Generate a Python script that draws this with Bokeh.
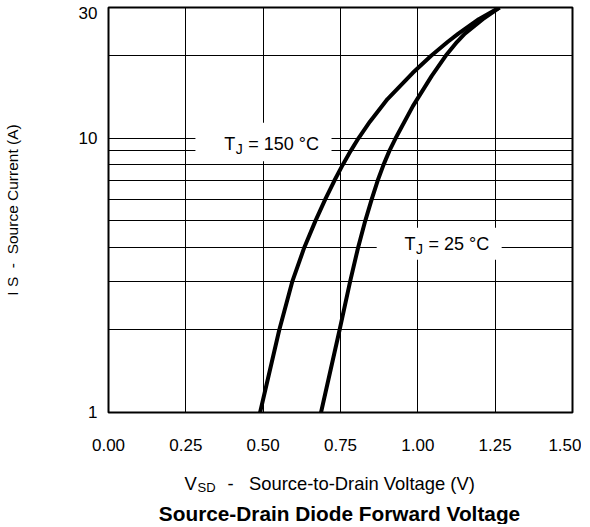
from bokeh.plotting import figure
from bokeh.layouts import column
from bokeh.models import FixedTicker, Label, BoxAnnotation, NumeralTickFormatter, Range1d
from bokeh.embed import file_html
from bokeh.resources import INLINE

# ---- data ----
v_150 = [0.490, 0.552, 0.594, 0.633, 0.669, 0.701, 0.730, 0.757, 0.783, 0.808,
         0.845, 0.902, 0.983, 1.043, 1.097, 1.131, 1.197, 1.264]
i_150 = [1, 2, 3, 4, 5, 6, 7, 8, 9, 10, 11.5, 13.9, 17.3, 20, 22.5, 24.1, 27.2, 30]

v_25 = [0.687, 0.747, 0.781, 0.807, 0.830, 0.851, 0.870, 0.889, 0.908, 0.928,
        0.984, 1.045, 1.090, 1.127, 1.152, 1.210, 1.264]
i_25 = [1, 2, 3, 4, 5, 6, 7, 8, 9, 10, 13.1, 16.9, 20, 22.5, 24.1, 27.2, 30]

x_ticks = [0.0, 0.25, 0.5, 0.75, 1.0, 1.25, 1.5]
x_grid = [0.25, 0.5, 0.75, 1.0, 1.25]
y_ticks = [1, 10, 30]
y_grid = [2, 3, 4, 5, 6, 7, 8, 9, 10, 20]

NB = "\u00a0"
label_150 = "= 150 °C"
label_25 = "= 25 °C"
y_title = "I S" + NB * 2 + "-" + NB * 2 + "Source Current (A)"
x_title_main = "V"
x_title_sub = "SD"
x_title_rest = "-" + NB * 3 + "Source-to-Drain Voltage (V)"
chart_title = "Source-Drain Diode Forward Voltage"

FONT = "Liberation Sans"

p = figure(frame_width=464, frame_height=405,
           min_border_left=101, min_border_right=9, min_border_top=7, min_border_bottom=46,
           x_range=Range1d(0, 1.5), y_range=Range1d(1, 30), y_axis_type="log",
           output_backend="svg", toolbar_location=None)
p.background_fill_color = "white"
p.border_fill_color = "white"
p.outline_line_color = "black"
p.outline_line_width = 2

# grids
p.xgrid.ticker = FixedTicker(ticks=x_grid)
p.ygrid.ticker = FixedTicker(ticks=y_grid)
for g in (p.xgrid, p.ygrid):
    g.grid_line_color = "black"
    g.grid_line_width = 1
    g.grid_line_alpha = 1.0

# axes
for ax in (p.xaxis, p.yaxis):
    ax.axis_line_color = None
    ax.major_tick_line_color = None
    ax.minor_tick_line_color = None
    ax.major_tick_out = 0
    ax.major_tick_in = 0
    ax.minor_tick_out = 0
    ax.minor_tick_in = 0
    ax.major_label_text_font = FONT
    ax.major_label_text_font_size = "17px"
    ax.major_label_text_color = "black"

p.xaxis.ticker = FixedTicker(ticks=x_ticks)
p.xaxis.formatter = NumeralTickFormatter(format="0.00")
p.xaxis.major_label_standoff = 26

p.yaxis.ticker = FixedTicker(ticks=y_ticks)
p.yaxis.major_label_overrides = {1: "1", 10: "10", 30: "\n30"}
p.yaxis.major_label_text_line_height = 0.2
p.yaxis.major_label_standoff = 11
p.yaxis.axis_label = y_title
p.yaxis.axis_label_text_font = FONT
p.yaxis.axis_label_text_font_size = "15.5px"
p.yaxis.axis_label_text_font_style = "normal"
p.yaxis.axis_label_text_color = "black"
p.yaxis.axis_label_standoff = 55

# curves
p.line(v_150, i_150, line_color="black", line_width=4, line_join="round")
p.line(v_25, i_25, line_color="black", line_width=4, line_join="round")

# label boxes
p.add_layout(BoxAnnotation(left=0.281, right=0.721, bottom=8.24, top=11.4,
                           fill_color="white", fill_alpha=1.0, line_color=None))
p.add_layout(BoxAnnotation(left=0.867, right=1.271, bottom=3.61, top=4.72,
                           fill_color="white", fill_alpha=1.0, line_color=None))

def tj_label(x, y, rest):
    common = dict(x=x, y=y, text_font=FONT, text_color="black", text_baseline="middle")
    p.add_layout(Label(text="T", x_offset=0, text_font_size="18px", **common))
    p.add_layout(Label(text="J", x_offset=11.5, y_offset=-5, text_font_size="14px", **common))
    p.add_layout(Label(text=rest, x_offset=24, text_font_size="18px", **common))

tj_label(0.374, 9.51, label_150)
tj_label(0.957, 4.13, label_25)

# ---- titles below the chart (own small figure; its frame is aligned with p's frame) ----
p2 = figure(width=574, height=66, x_range=Range1d(0, 1), y_range=Range1d(0, 1),
            min_border_left=101, min_border_right=9, min_border_top=0, min_border_bottom=0,
            x_axis_location=None, y_axis_location=None,
            output_backend="svg", toolbar_location=None)
p2.grid.visible = False
p2.outline_line_color = None
p2.background_fill_color = "white"
p2.border_fill_color = "white"

xt = dict(x_units="screen", y_units="screen", text_font=FONT, text_color="black",
          text_baseline="alphabetic")
p2.add_layout(Label(x=76, y=41, text=x_title_main, text_font_size="18.4px", **xt))
p2.add_layout(Label(x=89, y=37, text=x_title_sub, text_font_size="13px", **xt))
p2.add_layout(Label(x=119, y=41, text=x_title_rest, text_font_size="18.4px", **xt))
p2.add_layout(Label(x=231, y=11, x_units="screen", y_units="screen", text=chart_title,
                    text_font=FONT, text_font_style="bold", text_font_size="20.8px",
                    text_color="black", text_align="center", text_baseline="alphabetic"))

layout = column(p, p2, spacing=0)
open("out.html", "w").write(file_html(layout, INLINE))
